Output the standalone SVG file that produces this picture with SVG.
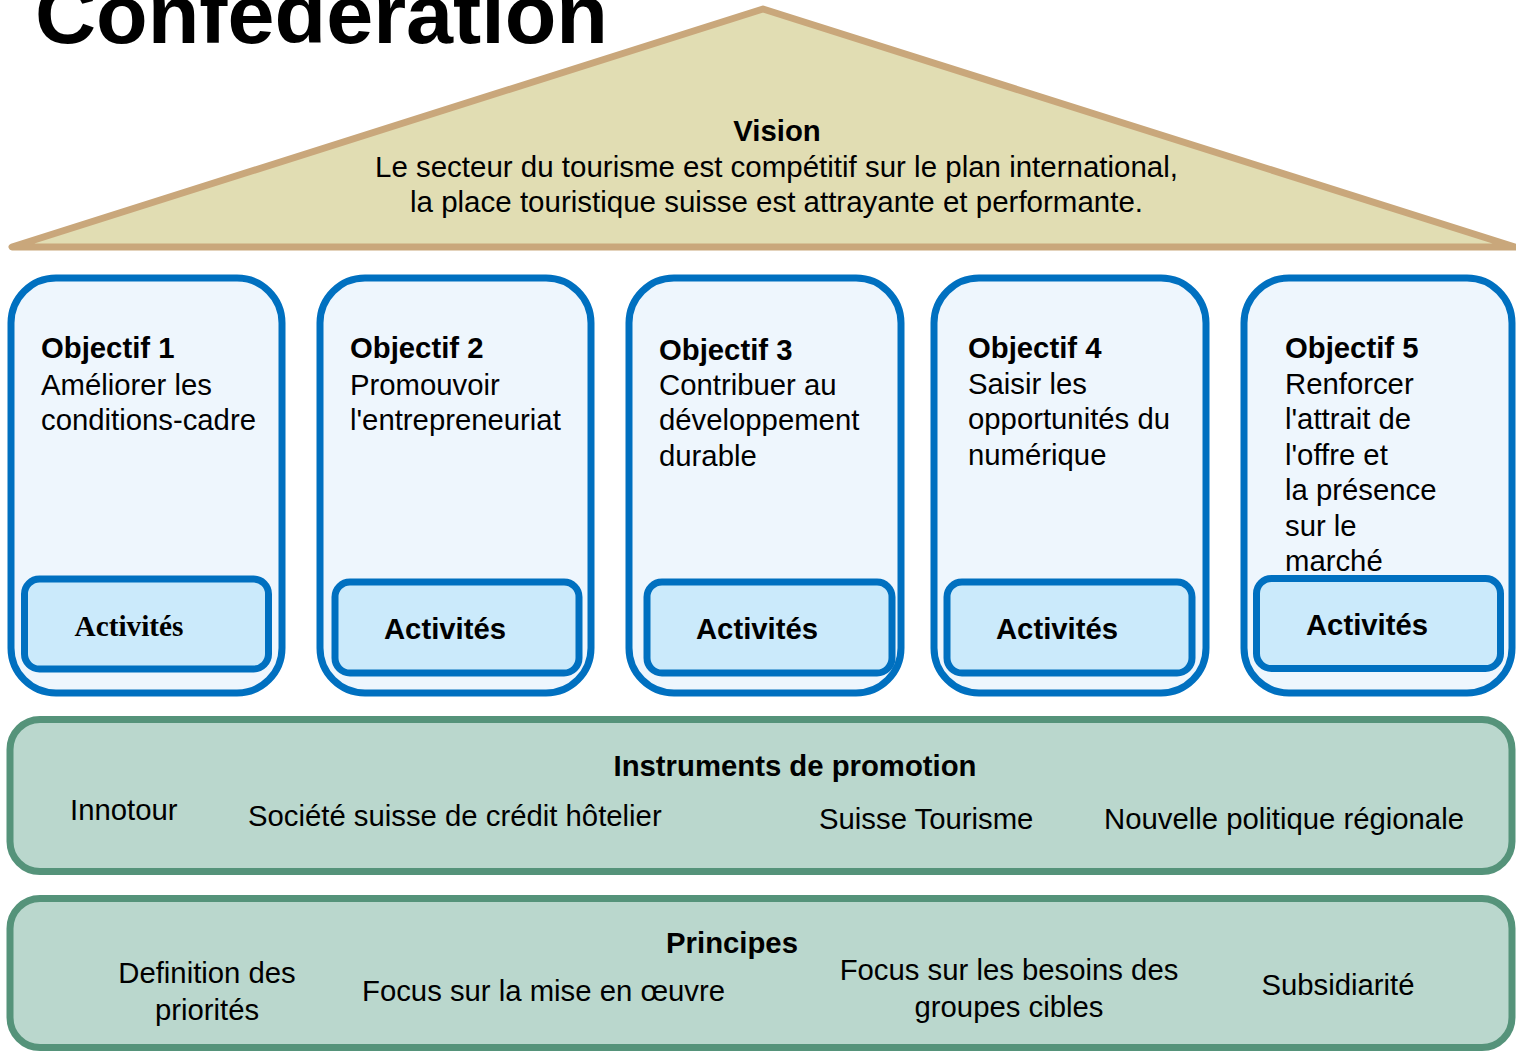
<svg xmlns="http://www.w3.org/2000/svg" width="1516" height="1051" viewBox="0 0 1516 1051">
<style>
text{font-family:"Liberation Sans",Arial,sans-serif;fill:#000;font-size:29.3px}
.b{font-weight:bold}
.m{text-anchor:middle}
.title{font-size:84px}
.obj{fill:#EEF6FD;stroke:#0070C0;stroke-width:7}
.act{fill:#CBEAFB;stroke:#0070C0;stroke-width:7}
.band{fill:#BAD7CD;stroke:#55937A;stroke-width:7}
.serif{font-family:"Liberation Serif","Times New Roman",serif}
</style>
<rect width="1516" height="1051" fill="#fff"/>
<text id="title" class="b title" x="35" y="43" textLength="573" lengthAdjust="spacingAndGlyphs">Confederation</text>
<g id="vision">
<polygon points="763,9 12,247 1515,247" fill="#E1DDB3" stroke="#C9A77B" stroke-width="7" stroke-linejoin="round"/>
<text class="b m" x="777" y="141">Vision</text>
<text class="m" x="776.5" y="177" textLength="803" lengthAdjust="spacingAndGlyphs">Le secteur du tourisme est compétitif sur le plan international,</text>
<text class="m" x="776.5" y="212" textLength="733" lengthAdjust="spacingAndGlyphs">la place touristique suisse est attrayante et performante.</text>
</g>
<g id="objectif1">
<rect class="obj" x="11" y="278" width="271" height="415" rx="45"/>
<text class="b" x="41" y="358">Objectif 1</text>
<text x="41" y="395">Améliorer les</text>
<text x="41" y="430">conditions-cadre</text>
<rect class="act" x="24.5" y="579" width="244" height="90" rx="15"/>
<text class="b serif m" x="129" y="636">Activités</text>
</g>
<g id="objectif2">
<rect class="obj" x="320" y="278" width="271" height="415" rx="45"/>
<text class="b" x="350" y="358">Objectif 2</text>
<text x="350" y="395">Promouvoir</text>
<text x="350" y="430">l'entrepreneuriat</text>
<rect class="act" x="335" y="582" width="244" height="91" rx="15"/>
<text class="b m" x="445" y="639">Activités</text>
</g>
<g id="objectif3">
<rect class="obj" x="629" y="278" width="272" height="415" rx="45"/>
<text class="b" x="659" y="360">Objectif 3</text>
<text x="659" y="395">Contribuer au</text>
<text x="659" y="430">développement</text>
<text x="659" y="466">durable</text>
<rect class="act" x="647" y="582" width="245" height="91" rx="15"/>
<text class="b m" x="757" y="639">Activités</text>
</g>
<g id="objectif4">
<rect class="obj" x="934" y="278" width="272" height="415" rx="45"/>
<text class="b" x="968" y="358">Objectif 4</text>
<text x="968" y="394">Saisir les</text>
<text x="968" y="429">opportunités du</text>
<text x="968" y="465">numérique</text>
<rect class="act" x="947" y="582" width="245" height="91" rx="15"/>
<text class="b m" x="1057" y="639">Activités</text>
</g>
<g id="objectif5">
<rect class="obj" x="1244" y="278" width="268" height="415" rx="45"/>
<text class="b" x="1285" y="358">Objectif 5</text>
<text x="1285" y="394">Renforcer</text>
<text x="1285" y="429">l'attrait de</text>
<text x="1285" y="465">l'offre et</text>
<text x="1285" y="500">la présence</text>
<text x="1285" y="536">sur le</text>
<text x="1285" y="571">marché</text>
<rect class="act" x="1256.5" y="578.5" width="244" height="90" rx="15"/>
<text class="b m" x="1367" y="635">Activités</text>
</g>
<g id="instruments">
<rect class="band" x="10" y="719.5" width="1502" height="152" rx="30"/>
<text class="b m" x="795" y="776">Instruments de promotion</text>
<text x="70" y="820">Innotour</text>
<text x="248" y="826">Société suisse de crédit hôtelier</text>
<text x="819" y="829">Suisse Tourisme</text>
<text x="1104" y="829">Nouvelle politique régionale</text>
</g>
<g id="principes">
<rect class="band" x="10" y="898.5" width="1502" height="149" rx="30"/>
<text class="b m" x="732" y="953">Principes</text>
<text class="m" x="207" y="983">Definition des</text>
<text class="m" x="207" y="1020">priorités</text>
<text x="362" y="1001">Focus sur la mise en œuvre</text>
<text class="m" x="1009" y="980">Focus sur les besoins des</text>
<text class="m" x="1009" y="1017">groupes cibles</text>
<text class="m" x="1338" y="995">Subsidiarité</text>
</g>
<g id="connectors"/>
</svg>
